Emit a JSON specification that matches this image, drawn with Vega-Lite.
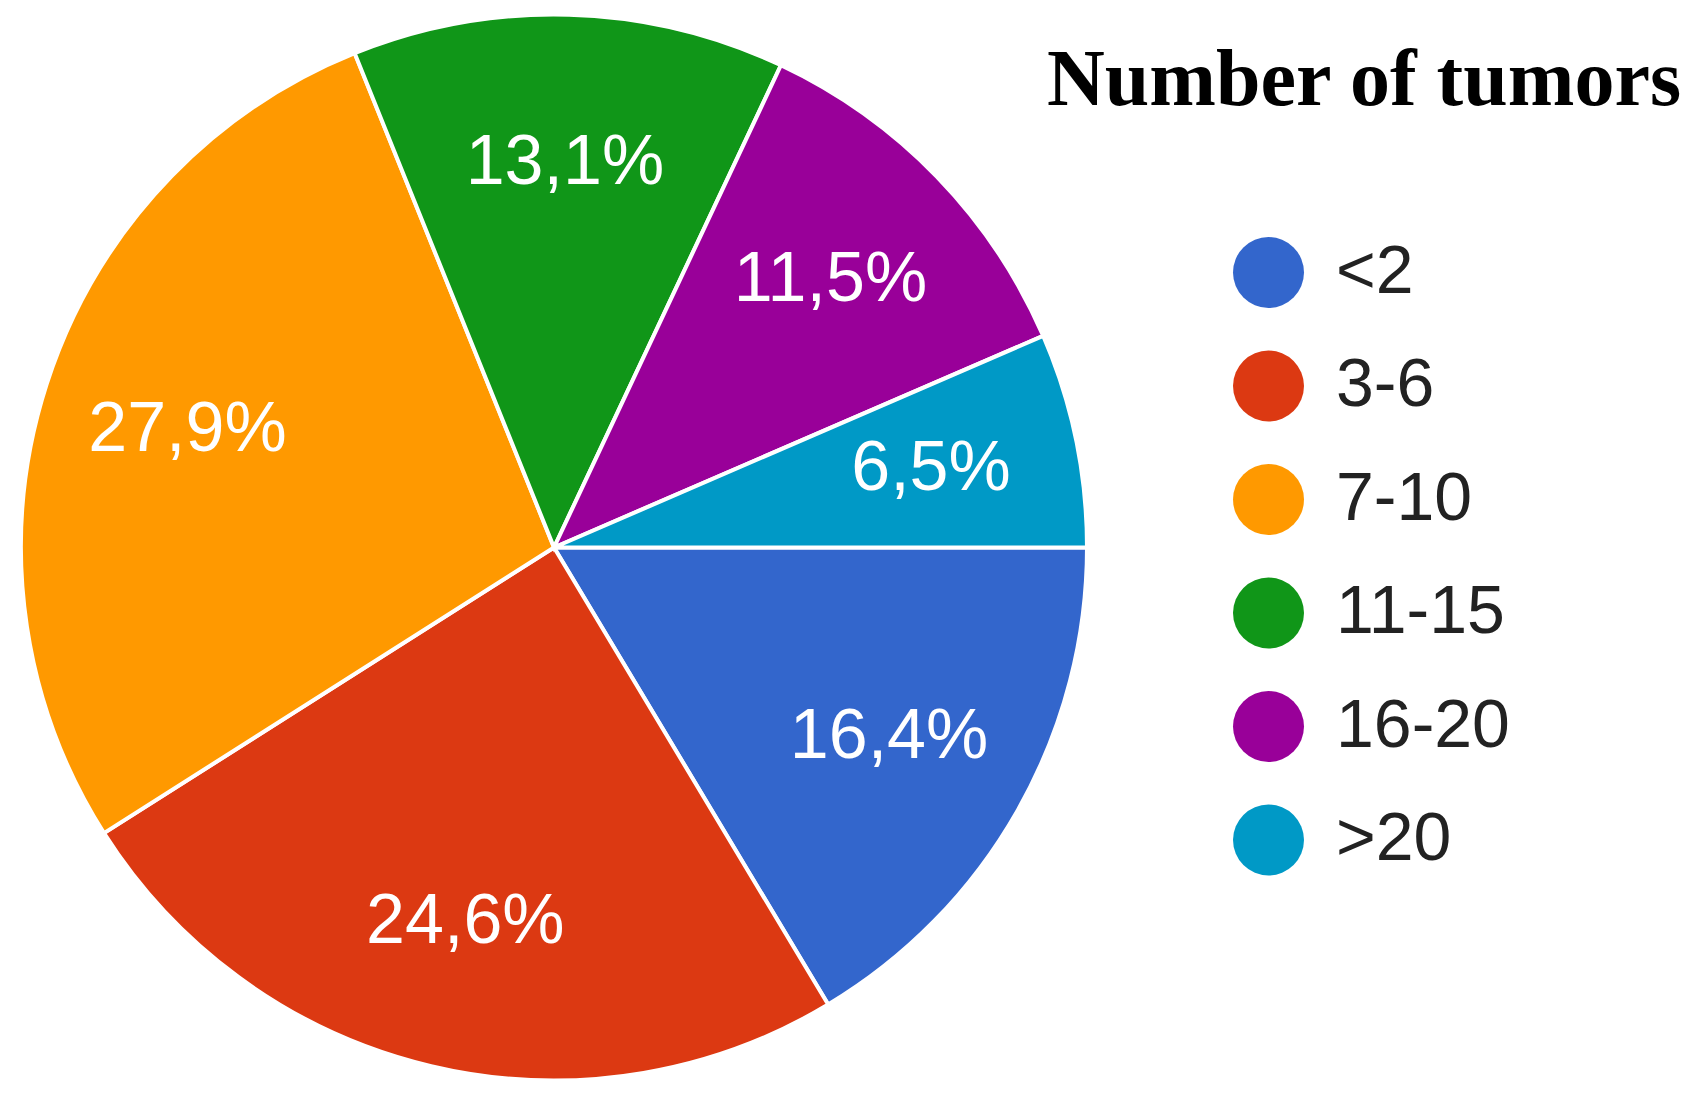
{
  "$schema": "https://vega.github.io/schema/vega-lite/v6.json",
  "width": 1108,
  "height": 1095,
  "autosize": {"type": "none"},
  "padding": {"left": 0, "top": 0, "right": 583, "bottom": 0},
  "background": "white",
  "title": {
    "text": "Number of tumors",
    "anchor": "start",
    "frame": "group",
    "orient": "top",
    "offset": 0,
    "baseline": "alphabetic",
    "dx": 1047,
    "dy": 185,
    "font": "Liberation Serif",
    "fontSize": 80,
    "fontWeight": "bold",
    "color": "#000000"
  },
  "data": {
    "values": [
      {"cat": "<2", "pct": 16.4, "label": "16,4%", "idx": 1},
      {"cat": "3-6", "pct": 24.6, "label": "24,6%", "idx": 2},
      {"cat": "7-10", "pct": 27.9, "label": "27,9%", "idx": 3},
      {"cat": "11-15", "pct": 13.1, "label": "13,1%", "idx": 4},
      {"cat": "16-20", "pct": 11.5, "label": "11,5%", "idx": 5},
      {"cat": ">20", "pct": 6.5, "label": "6,5%", "idx": 6}
    ]
  },
  "encoding": {
    "theta": {"field": "pct", "type": "quantitative", "stack": true, "scale": {"range": [1.5707963, 7.8539816]}},
    "order": {"field": "idx", "type": "quantitative"}
  },
  "layer": [
    {
      "mark": {"type": "arc", "outerRadius": 533, "stroke": "white", "strokeWidth": 4},
      "encoding": {
        "color": {
          "field": "cat",
          "type": "nominal",
          "sort": ["<2", "3-6", "7-10", "11-15", "16-20", ">20"],
          "scale": {
            "domain": ["<2", "3-6", "7-10", "11-15", "16-20", ">20"],
            "range": ["#3366cc", "#dc3912", "#ff9900", "#109618", "#990099", "#0099c6"]
          },
          "legend": {
            "title": null,
            "orient": "none",
            "legendX": 1233,
            "legendY": 237,
            "symbolType": "circle",
            "symbolSize": 5041,
            "symbolStrokeWidth": 0,
            "symbolOpacity": 1,
            "labelFont": "Liberation Sans",
            "labelFontSize": 68,
            "labelColor": "#222222",
            "labelOffset": 32,
            "rowPadding": 42.5,
            "labelLimit": 400
          }
        }
      }
    },
    {
      "mark": {"type": "text", "radius": 385, "font": "Liberation Sans", "fontSize": 70, "color": "white", "baseline": "middle", "align": "center"},
      "encoding": {
        "detail": {"field": "cat", "type": "nominal"},
        "text": {"field": "label", "type": "nominal"}
      }
    }
  ]
}
